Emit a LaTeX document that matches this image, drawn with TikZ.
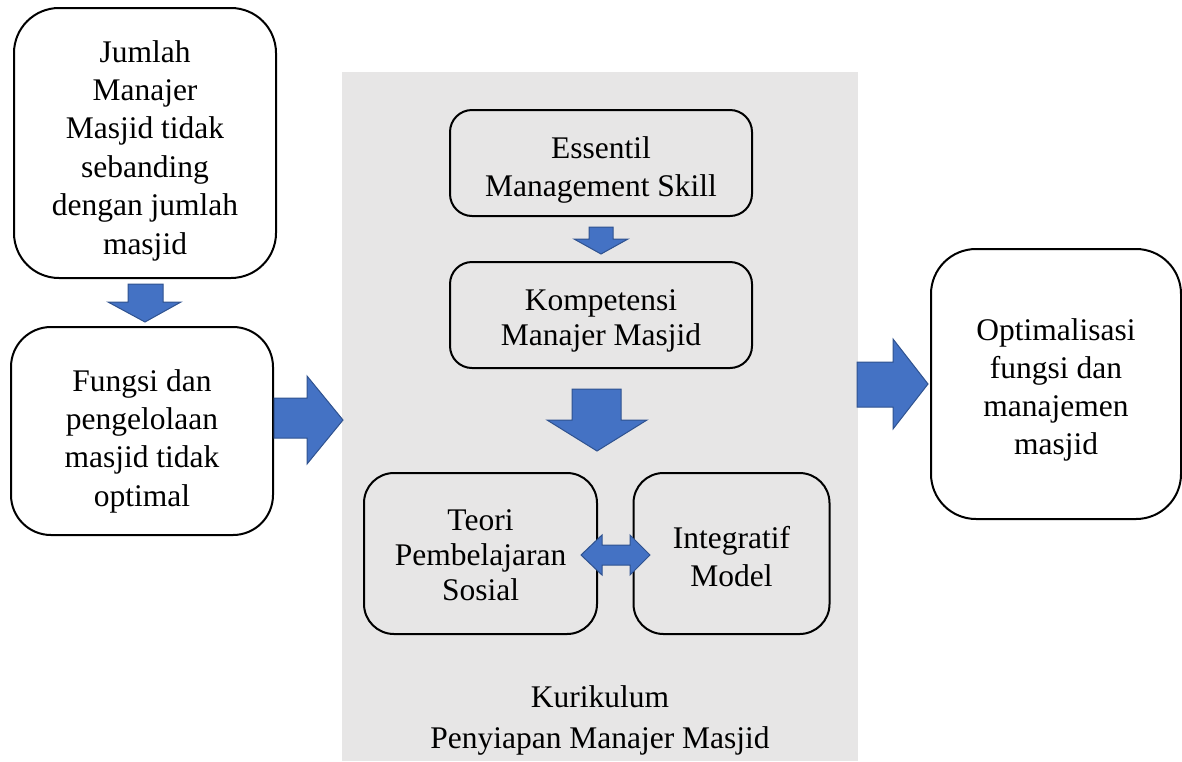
\documentclass[tikz,border=0pt]{standalone}
\usepackage{fontspec}
\setmainfont{Liberation Serif}
\begin{document}
\begin{tikzpicture}[x=1pt,y=-1pt,
  box/.style={draw=black,line width=2pt,fill=white,inner sep=0pt},
  inbox/.style={box,fill=panelgray},
  txt/.style={align=center,inner sep=0pt,font=\fontsize{31.5}{38}\selectfont},
  blockarrow/.style={fill=arrowblue,draw=arrowedge,line width=1pt,line join=miter}]
\definecolor{panelgray}{HTML}{E7E6E6}
\definecolor{arrowblue}{HTML}{4472C4}
\definecolor{arrowedge}{HTML}{2F528F}
\useasboundingbox (0,0) rectangle (1182,761);
% curriculum panel
\fill[panelgray] (342,72) rectangle (858,761);
% left column
\node[box,rounded corners=45pt,minimum width=262pt,minimum height=270pt] (jumlah) at (145,143) {};
\node[txt,font=\fontsize{31.5}{38.4}\selectfont,yshift=-7.5pt] (jumlahtxt) at (jumlah)
  {Jumlah\\Manajer\\Masjid tidak\\sebanding\\dengan jumlah\\masjid};
\node[box,rounded corners=40pt,minimum width=262pt,minimum height=208pt] (fungsi) at (142,431) {};
\node[txt,font=\fontsize{31.5}{38.3}\selectfont,yshift=-10pt] (fungsitxt) at (fungsi)
  {Fungsi dan\\pengelolaan\\masjid tidak\\optimal};
% curriculum contents
\node[inbox,rounded corners=22pt,minimum width=302pt,minimum height=106pt] (essentil) at (601,163) {};
\node[txt,yshift=-7pt] (essentiltxt) at (essentil) {Essentil\\Management Skill};
\node[inbox,rounded corners=22pt,minimum width=302pt,minimum height=106pt] (kompetensi) at (601,315) {};
\node[txt,font=\fontsize{31.5}{35}\selectfont,yshift=-5.5pt] (kompetensitxt) at (kompetensi)
  {Kompetensi\\Manajer Masjid};
\node[inbox,rounded corners=30pt,minimum width=233pt,minimum height=161pt] (teori) at (480.5,553.5) {};
\node[txt,font=\fontsize{31.5}{35}\selectfont,yshift=-2pt] (teoritxt) at (teori)
  {Teori\\Pembelajaran\\Sosial};
\node[inbox,rounded corners=30pt,minimum width=196pt,minimum height=161pt] (integratif) at (731.5,553.5) {};
\node[txt,yshift=-3.5pt] (integratiftxt) at (integratif) {Integratif\\Model};
\node[txt,font=\fontsize{31.5}{41}\selectfont] (kurikulum) at (600,720.5)
  {Kurikulum\\Penyiapan Manajer Masjid};
% outcome
\node[box,rounded corners=45pt,minimum width=250pt,minimum height=270pt] (optimal) at (1056,384) {};
\node[txt,yshift=-5.5pt] (optimaltxt) at (optimal)
  {Optimalisasi\\fungsi dan\\manajemen\\masjid};
% block arrows
\draw[blockarrow] (128,284) -- (163,284) -- (163,302) -- (181,302) -- (145,322)
  -- (108,302) -- (128,302) -- cycle;
\draw[blockarrow] (274,398) -- (307,398) -- (307,376) -- (343,420) -- (307,464)
  -- (307,438) -- (274,438) -- cycle;
\draw[blockarrow] (589,227) -- (613,227) -- (613,239) -- (628,239) -- (601,254)
  -- (574,239) -- (589,239) -- cycle;
\draw[blockarrow] (572,389) -- (621,389) -- (621,420) -- (647,420) -- (597,451)
  -- (547,420) -- (572,420) -- cycle;
\draw[blockarrow] (581,555) -- (602,535) -- (602,545) -- (630,545) -- (630,535)
  -- (650,555) -- (630,575) -- (630,565) -- (602,565) -- (602,575) -- cycle;
\draw[blockarrow] (857,362) -- (893,362) -- (893,339) -- (928,384) -- (893,429)
  -- (893,407) -- (857,407) -- cycle;
\end{tikzpicture}
\end{document}
